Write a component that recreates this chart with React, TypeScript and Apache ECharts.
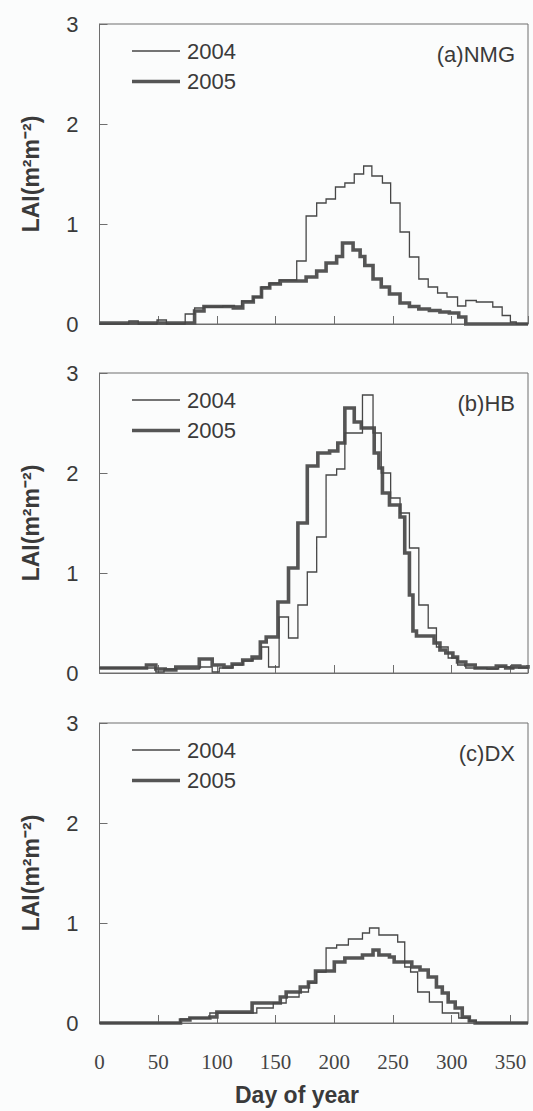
import React, { useEffect, useRef } from "react";
import * as echarts from "echarts";

// ---- data (day of year -> LAI, 8-day step composites) ----
const panelLabels = ["(a)NMG", "(b)HB", "(c)DX"];
const seriesNames = ["2004", "2005"];
const yTickMax = 3;
const dayMax = 365;

const nmgDays2004 = [0, 25, 33, 49, 57, 73, 81, 89, 105, 121, 131, 138, 145, 153, 168, 176, 185, 193, 201, 209, 217, 225, 232, 241, 248, 256, 264, 272, 280, 288, 296, 305, 312, 321, 335, 343, 350, 355, 365];
const nmgLai2004 = [0, 0.03, 0, 0.04, 0, 0.1, 0.16, 0.17, 0.18, 0.23, 0.27, 0.37, 0.41, 0.44, 0.63, 1.08, 1.21, 1.25, 1.37, 1.41, 1.5, 1.58, 1.48, 1.41, 1.21, 0.92, 0.67, 0.45, 0.37, 0.31, 0.27, 0.18, 0.235, 0.22, 0.17, 0.085, 0.02, 0, 0];

const nmgDays2005 = [0, 81, 89, 114, 122, 131, 138, 145, 154, 176, 185, 193, 202, 207, 216, 222, 226, 233, 240, 247, 256, 264, 272, 281, 290, 298, 306, 312, 365];
const nmgLai2005 = [0.01, 0.13, 0.175, 0.16, 0.22, 0.27, 0.36, 0.4, 0.43, 0.47, 0.53, 0.61, 0.675, 0.81, 0.74, 0.675, 0.585, 0.45, 0.37, 0.3, 0.21, 0.175, 0.15, 0.135, 0.12, 0.11, 0.07, 0, 0];

const hbDays2004 = [0, 48, 55, 85, 96, 102, 113, 122, 130, 138, 144, 153, 161, 169, 177, 185, 193, 202, 209, 224, 233, 240, 248, 256, 264, 272, 280, 287, 297, 305, 312, 330, 340, 350, 365];
const hbLai2004 = [0.05, 0.01, 0.04, 0.06, 0.01, 0.05, 0.08, 0.12, 0.14, 0.26, 0.06, 0.56, 0.35, 0.68, 1.01, 1.36, 1.98, 2.04, 2.4, 2.78, 2.4, 2.0, 1.75, 1.6, 1.25, 0.68, 0.45, 0.26, 0.15, 0.08, 0.05, 0.04, 0.06, 0.05, 0.05];

const hbDays2005 = [0, 40, 48, 56, 65, 85, 96, 106, 113, 122, 130, 137, 142, 152, 161, 169, 177, 186, 196, 203, 209, 217, 223, 234, 238, 241, 247, 256, 260, 264, 267, 270, 285, 290, 295, 301, 305, 312, 320, 338, 346, 352, 358, 365];
const hbLai2005 = [0.05, 0.08, 0.04, 0.03, 0.06, 0.14, 0.08, 0.06, 0.09, 0.13, 0.16, 0.31, 0.36, 0.71, 1.05, 1.5, 2.07, 2.2, 2.22, 2.3, 2.65, 2.51, 2.45, 2.2, 2.05, 1.8, 1.68, 1.56, 1.2, 0.78, 0.42, 0.37, 0.3, 0.23, 0.2, 0.16, 0.11, 0.08, 0.05, 0.07, 0.05, 0.07, 0.06, 0.08];

const dxDays2004 = [0, 69, 77, 94, 134, 148, 159, 170, 178, 185, 193, 202, 212, 224, 230, 238, 254, 260, 265, 271, 281, 292, 306, 315, 321, 365];
const dxLai2004 = [0, 0.04, 0.05, 0.1, 0.15, 0.2, 0.26, 0.31, 0.4, 0.51, 0.75, 0.78, 0.84, 0.9, 0.95, 0.88, 0.81, 0.56, 0.51, 0.31, 0.21, 0.1, 0.05, 0.02, 0, 0];

const dxDays2005 = [0, 69, 77, 94, 100, 130, 154, 159, 171, 178, 184, 200, 209, 224, 233, 238, 247, 251, 266, 273, 280, 287, 292, 297, 303, 309, 315, 320, 365];
const dxLai2005 = [0, 0.03, 0.05, 0.06, 0.11, 0.2, 0.26, 0.31, 0.36, 0.41, 0.52, 0.61, 0.65, 0.68, 0.73, 0.68, 0.66, 0.61, 0.56, 0.53, 0.46, 0.36, 0.3, 0.21, 0.15, 0.06, 0.02, 0, 0];

const panelSeries = [
  [[nmgDays2004, nmgLai2004], [nmgDays2005, nmgLai2005]],
  [[hbDays2004, hbLai2004], [hbDays2005, hbLai2005]],
  [[dxDays2004, dxLai2004], [dxDays2005, dxLai2005]],
];

// ---- layout / style ----
const GRID_LEFT = 99.5;
const GRID_WIDTH = 428.5;
const GRID_HEIGHT = 300;
const gridTops = [24, 373, 723];
const AXIS_COLOR = "#6e6e6e";
const TEXT_COLOR = "#3a3a3a";
const THIN_COLOR = "#474747";
const THICK_COLOR = "#555555";
const THIN_W = 1.3;
const THICK_W = 3.6;

function zip(days: number[], vals: number[]) {
  return days.map((d, i) => [d, vals[i]]);
}

export default function App() {
  const ref = useRef<HTMLDivElement>(null);

  useEffect(() => {
    document.body.style.margin = "0";
    if (!ref.current) return;
    const chart = echarts.init(ref.current, undefined, { renderer: "svg" });

    const grids = gridTops.map((t) => ({
      left: GRID_LEFT,
      top: t,
      width: GRID_WIDTH,
      height: GRID_HEIGHT,
      show: true,
      borderColor: AXIS_COLOR,
      borderWidth: 1,
      backgroundColor: "transparent",
    }));

    const xAxes = gridTops.map((_, i) => ({
      type: "value",
      gridIndex: i,
      min: 0,
      max: dayMax,
      interval: 50,
      axisLine: { show: true, lineStyle: { color: AXIS_COLOR, width: 1 } },
      axisTick: { show: true, inside: true, length: 8, lineStyle: { color: AXIS_COLOR } },
      axisLabel: {
        show: i === 2,
        margin: 28,
        fontFamily: "Liberation Serif",
        fontSize: 21,
        color: "#444",
        showMaxLabel: false,
      },
      splitLine: { show: false },
    }));

    const yAxes = gridTops.map((_, i) => ({
      type: "value",
      gridIndex: i,
      min: 0,
      max: yTickMax,
      interval: 1,
      axisLine: { show: true, lineStyle: { color: AXIS_COLOR, width: 1 } },
      axisTick: { show: true, inside: true, length: 8, lineStyle: { color: AXIS_COLOR } },
      axisLabel: {
        margin: 21,
        fontFamily: "Liberation Sans",
        fontSize: 22,
        color: TEXT_COLOR,
      },
      splitLine: { show: false },
    }));

    const series: any[] = [];
    panelSeries.forEach((pair, i) => {
      // thick 2005 first, thin 2004 on top
      [1, 0].forEach((k) => {
        const [days, vals] = pair[k];
        series.push({
          name: seriesNames[k],
          type: "line",
          step: "end",
          xAxisIndex: i,
          yAxisIndex: i,
          symbol: "none",
          clip: false,
          data: zip(days, vals),
          lineStyle: {
            color: k === 0 ? THIN_COLOR : THICK_COLOR,
            width: k === 0 ? THIN_W : THICK_W,
            join: "miter",
          },
          z: k === 0 ? 3 : 2,
        });
      });
    });

    const graphics: any[] = [];
    gridTops.forEach((t, i) => {
      const rows = [t + 27, t + 57.5];
      rows.forEach((y, k) => {
        graphics.push({
          type: "line",
          shape: { x1: 132, y1: y, x2: 180, y2: y },
          style: { stroke: k === 0 ? THIN_COLOR : THICK_COLOR, lineWidth: k === 0 ? THIN_W : THICK_W },
        });
        graphics.push({
          type: "text",
          x: 187,
          y: y,
          style: {
            text: seriesNames[k],
            fontSize: 22,
            fontFamily: "Liberation Sans",
            fill: TEXT_COLOR,
            textAlign: "left",
            textVerticalAlign: "middle",
            align: "left",
            verticalAlign: "middle",
          },
        });
      });
      graphics.push({
        type: "text",
        x: 515,
        y: t + 30,
        style: {
          text: panelLabels[i],
          fontSize: 22,
          fontFamily: "Liberation Sans",
          fill: TEXT_COLOR,
          textAlign: "right",
          textVerticalAlign: "middle",
          align: "right",
          verticalAlign: "middle",
        },
      });
      graphics.push({
        type: "text",
        x: 31,
        y: t + GRID_HEIGHT / 2,
        rotation: Math.PI / 2,
        style: {
          text: "LAI(m²m⁻²)",
          fontSize: 23,
          fontWeight: "bold",
          fontFamily: "Liberation Sans",
          fill: TEXT_COLOR,
          textAlign: "center",
          textVerticalAlign: "middle",
          align: "center",
          verticalAlign: "middle",
        },
      });
    });
    graphics.push({
      type: "text",
      x: 297,
      y: 1095,
      style: {
        text: "Day of year",
        fontSize: 23,
        fontWeight: "bold",
        fontFamily: "Liberation Sans",
        fill: TEXT_COLOR,
        textAlign: "center",
        textVerticalAlign: "middle",
        align: "center",
        verticalAlign: "middle",
      },
    });

    chart.setOption({
      animation: false,
      backgroundColor: "#fbfcfc",
      grid: grids,
      xAxis: xAxes,
      yAxis: yAxes,
      series,
      graphic: graphics,
    } as any);

    return () => {
      chart.dispose();
    };
  }, []);

  return <div ref={ref} style={{ width: 533, height: 1111 }} />;
}
